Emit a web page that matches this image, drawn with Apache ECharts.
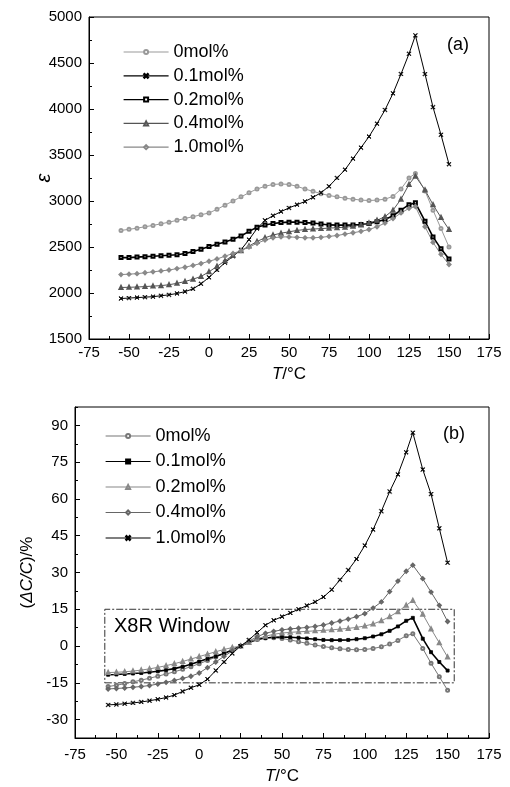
<!doctype html>
<html>
<head>
    <meta charset="utf-8">
    <title>epsilon-T / TCC</title>
    <script src="https://cdn.jsdelivr.net/npm/echarts@6/dist/echarts.min.js"></script>
    <style>
        html,body{margin:0;padding:0;background:#fff;}
        #ID-Chart{width:510px;height:787px;}
    </style>
</head>
<body>
<div id="ID-Chart"></div>
<script>
    /*=========================
      Data
      ===========================*/
    //温度 (°C)
    var temps = [-55,-50,-45,-40,-35,-30,-25,-20,-15,-10,-5,0,5,10,15,20,25,30,35,40,45,50,55,60,65,70,75,80,85,90,95,100,105,110,115,120,125,129,135,140,145,150];

    //(a) 介电常数 ε
    var eps0  = [2680,2692,2705,2720,2735,2752,2770,2790,2810,2830,2850,2870,2910,2955,3000,3045,3090,3130,3160,3180,3185,3180,3160,3130,3105,3080,3060,3045,3030,3020,3010,3005,3010,3020,3050,3130,3250,3300,3110,2900,2700,2500];
    var eps01 = [1940,1945,1950,1955,1960,1970,1980,1995,2015,2045,2100,2170,2250,2330,2400,2470,2580,2700,2790,2840,2885,2925,2960,2995,3040,3090,3160,3250,3340,3460,3580,3700,3840,3990,4170,4380,4600,4800,4380,4020,3720,3400];
    var eps02 = [2385,2385,2390,2395,2400,2405,2410,2415,2430,2450,2475,2505,2530,2555,2585,2620,2670,2715,2740,2755,2765,2770,2770,2765,2760,2750,2740,2738,2738,2740,2745,2755,2775,2800,2840,2900,2960,2980,2780,2610,2480,2370];
    var eps04 = [2060,2062,2065,2070,2075,2080,2090,2105,2125,2150,2180,2230,2290,2350,2410,2460,2510,2560,2600,2630,2650,2665,2680,2690,2695,2700,2705,2710,2715,2725,2740,2760,2790,2830,2900,3020,3180,3270,3120,2960,2820,2690];
    var eps10 = [2200,2205,2210,2220,2230,2240,2250,2265,2280,2300,2320,2345,2370,2400,2430,2460,2500,2540,2575,2600,2610,2610,2605,2600,2600,2605,2615,2625,2640,2655,2670,2690,2720,2760,2810,2870,2920,2940,2720,2550,2420,2310];

    //(b) 容温变化率 ΔC/C (%)
    var tcc0  = [-16.5,-16,-15.3,-14.6,-13.9,-13.1,-12.3,-11.4,-10.5,-9.5,-8.4,-7.2,-5.9,-4.5,-3,-1.5,0,1.6,2.8,3.3,3.4,3.1,2.5,1.8,1.1,0.4,-0.2,-0.7,-1.1,-1.4,-1.5,-1.4,-1,-0.3,0.8,2.3,4.2,5,-1,-7,-12.5,-18];
    var tcc01 = [-11.7,-11.6,-11.4,-11.2,-11,-10.7,-10.3,-9.8,-9.2,-8.4,-7.4,-6.3,-5.2,-4.2,-3,-1.6,0,1.5,2.7,3.3,3.6,3.7,3.6,3.4,3.1,2.8,2.5,2.4,2.4,2.5,2.8,3.2,3.9,4.8,6.2,8,10.3,11.5,3,-2.5,-6.5,-10];
    var tcc02 = [-10.8,-10.7,-10.5,-10.2,-9.8,-9.3,-8.7,-8,-7.2,-6.3,-5.3,-4.3,-3.3,-2.3,-1.4,-0.6,0,1.5,3,4,4.8,5.3,5.6,5.8,6,6.2,6.4,6.6,6.9,7.2,7.6,8.2,9,10.3,12,14,16.6,18.6,13,7,1.3,-4.5];
    var tcc04 = [-17.5,-17.3,-17.1,-16.8,-16.5,-16.1,-15.5,-14.8,-14,-13.2,-12.3,-11,-8.8,-6.5,-4.2,-2,0,2,3.8,5.2,6,6.6,7,7.3,7.6,8,8.6,9.4,10.2,11,12,13.2,15.5,18,22.2,26.5,30.5,33,27.5,22,16.6,10];
    var tcc10 = [-24,-23.8,-23.5,-23.2,-22.8,-22.3,-21.7,-21,-20,-18.5,-17,-15.8,-13.5,-10,-6.5,-3,0,2.5,5.5,8.5,10.5,12,13.5,15,16.5,18,20,23,27,31,35.5,41,47.5,55,63,70,79,87,72,62,48,34];

    //图例
    var namesA = ['0mol%','0.1mol%','0.2mol%','0.4mol%','1.0mol%'];
    var namesB = ['(b) 0mol%','(b) 0.1mol%','(b) 0.2mol%','(b) 0.4mol%','(b) 1.0mol%'];

    //(b) y轴刻度
    var tccTicks = [-30,-15,0,15,30,45,60,75,90];

    //X8R 窗口
    var x8rT = [-57, 154];
    var x8rRange = [-15, 15];

    /*=========================
      Method
      ===========================*/
    var FONT = '"Liberation Sans", Arial, sans-serif';
    var CROSS = 'path://M0,1L1,0L5,4L9,0L10,1L6,5L10,9L9,10L5,6L1,10L0,9L4,5Z';

    function pairs(ys){
        var out = [];
        for (var i = 0; i < temps.length; i++) {
            out.push([temps[i], ys[i]]);
        }
        return out;
    }

    function line(name, ys, panel, color, symbol, size, width){
        return {
            name: name,
            type: 'line',
            xAxisIndex: panel,
            yAxisIndex: panel,
            data: pairs(ys),
            symbol: symbol,
            symbolSize: size,
            showSymbol: true,
            lineStyle: {color: color, width: width},
            itemStyle: {color: color, borderColor: color, borderWidth: 0.8},
            emphasis: {disabled: true}
        };
    }

    function xAxis(grid, margin, gap){
        return {
            gridIndex: grid,
            type: 'value',
            min: -75, max: 175, interval: 25,
            name: '{i|T}/°C',
            nameLocation: 'middle',
            nameGap: gap,
            nameTextStyle: {fontSize: 17, fontFamily: FONT, color: '#000', rich: {i: {fontSize: 17, fontStyle: 'italic', fontFamily: FONT}}},
            axisLine: {show: true, onZero: false, lineStyle: {color: '#000', width: 1}},
            axisTick: {show: true, inside: true, length: 5, lineStyle: {color: '#000'}},
            minorTick: {show: true, splitNumber: 2, length: 3, lineStyle: {color: '#000'}},
            axisLabel: {color: '#000', fontSize: 15, fontFamily: FONT, margin: margin},
            splitLine: {show: false}
        };
    }

    var legendText = {fontSize: 18, lineHeight: 18, fontFamily: FONT, color: '#000'};

    var option = {
        animation: false,
        backgroundColor: '#fff',
        grid: [
            {left: 89, top: 17, width: 400, height: 322, show: true, borderColor: '#000', borderWidth: 1},
            {left: 75, top: 407, width: 414, height: 331, show: true, borderColor: '#000', borderWidth: 1}
        ],
        title: [
            {text: '(a)', left: 447, top: 36, padding: 0, textStyle: {fontSize: 18, fontWeight: 'normal', fontFamily: FONT, color: '#000'}},
            {text: '(b)', left: 443, top: 425, padding: 0, textStyle: {fontSize: 18, fontWeight: 'normal', fontFamily: FONT, color: '#000'}},
            {text: 'X8R Window', left: 114, top: 616, padding: 0, textStyle: {fontSize: 20, fontWeight: 'normal', fontFamily: FONT, color: '#000'}}
        ],
        legend: [
            {
                data: namesA, orient: 'vertical', left: 118, top: 38,
                itemWidth: 45, itemHeight: 5, itemGap: 5.8, selectedMode: false,
                lineStyle: {width: 1.2},
                textStyle: legendText
            },
            {
                data: namesB, orient: 'vertical', left: 100, top: 422,
                itemWidth: 45, itemHeight: 5, itemGap: 7.5, selectedMode: false,
                lineStyle: {width: 1.2},
                formatter: function(n){ return n.replace('(b) ', ''); },
                textStyle: legendText
            }
        ],
        xAxis: [xAxis(0, 6, 27), xAxis(1, 9, 30)],
        yAxis: [
            {
                gridIndex: 0, type: 'value', min: 1500, max: 5000, interval: 500,
                name: 'ε', nameLocation: 'middle', nameGap: 35, nameRotate: 90, nameMoveOverlap: false,
                nameTextStyle: {fontSize: 20, fontStyle: 'italic', fontFamily: FONT, color: '#000'},
                axisLine: {show: true, onZero: false, lineStyle: {color: '#000'}},
                axisTick: {show: true, inside: true, length: 5, lineStyle: {color: '#000'}},
                minorTick: {show: true, splitNumber: 2, length: 3, lineStyle: {color: '#000'}},
                axisLabel: {color: '#000', fontSize: 15, fontFamily: FONT, margin: 7, formatter: function(v){ return String(v); }},
                splitLine: {show: false}
            },
            {
                gridIndex: 1, type: 'value', min: -37.5, max: 97.5, position: 'left',
                name: '({i|ΔC/C})/%', nameLocation: 'middle', nameGap: 38, nameRotate: 90,
                nameTextStyle: {fontSize: 17, fontFamily: FONT, color: '#000', rich: {i: {fontSize: 17, fontStyle: 'italic', fontFamily: FONT}}},
                axisLine: {show: true, onZero: false, lineStyle: {color: '#000'}},
                axisTick: {show: true, inside: true, length: 5, customValues: tccTicks, lineStyle: {color: '#000'}},
                axisLabel: {color: '#000', fontSize: 15, fontFamily: FONT, margin: 7, customValues: tccTicks},
                splitLine: {show: false}
            },
            {
                //次刻度
                gridIndex: 1, type: 'value', min: -37.5, max: 97.5, interval: 7.5, position: 'left',
                axisLine: {show: false, onZero: false},
                axisTick: {show: true, inside: true, length: 3, lineStyle: {color: '#000'}},
                axisLabel: {show: false},
                splitLine: {show: false}
            }
        ],
        series: [
            line(namesA[0], eps0,  0, '#999', 'emptyCircle', 3, 1),
            line(namesA[1], eps01, 0, '#000', CROSS, 4, 1),
            line(namesA[2], eps02, 0, '#000', 'emptyRect', 3, 1.6),
            line(namesA[3], eps04, 0, '#555', 'emptyTriangle', 3, 1),
            line(namesA[4], eps10, 0, '#888', 'emptyDiamond', 3, 1),

            line(namesB[0], tcc0,  1, '#777', 'emptyCircle', 3, 1),
            line(namesB[1], tcc01, 1, '#000', 'rect', 3, 1.6),
            line(namesB[2], tcc02, 1, '#888', 'emptyTriangle', 3, 1),
            line(namesB[3], tcc04, 1, '#666', 'emptyDiamond', 3, 1),
            line(namesB[4], tcc10, 1, '#000', CROSS, 4, 1)
        ]
    };

    //X8R 窗口 (点划线框)
    option.series[5].markArea = {
        silent: true,
        itemStyle: {color: 'rgba(0,0,0,0)', borderColor: '#333', borderWidth: 1, borderType: [7,2,2,2]},
        data: [[{xAxis: x8rT[0], yAxis: x8rRange[0]}, {xAxis: x8rT[1], yAxis: x8rRange[1]}]]
    };

    /*=========================
      OnLoad
      ===========================*/
    var chart = echarts.init(document.getElementById('ID-Chart'));
    chart.setOption(option);
</script>
</body>
</html>
